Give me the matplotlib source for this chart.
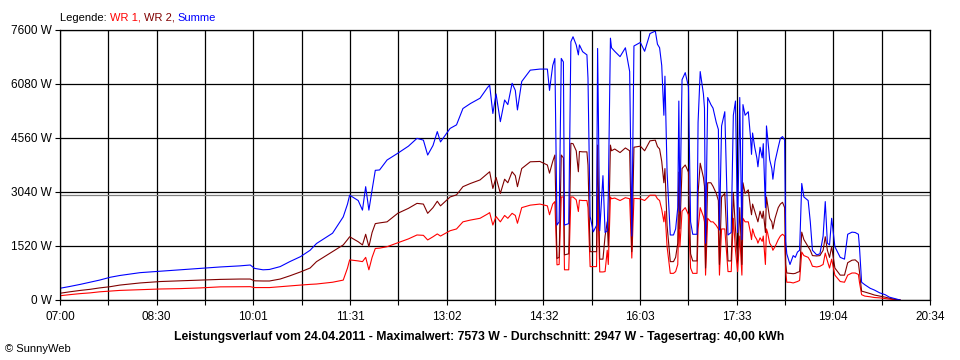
import matplotlib
matplotlib.use('Agg')
import matplotlib.pyplot as plt
import numpy as np

# Minuten ab 07:00, Leistung in W
minutes = [0, 9, 19, 28, 37, 47, 56, 75, 94, 112, 131, 150, 168, 178, 182, 190, 196, 206, 215, 225,
           234, 240, 255, 265, 269, 271, 279, 283, 286, 289, 292, 295, 299, 306, 316, 326, 334, 340, 344, 349,
           353, 356, 365, 371, 377, 384, 393, 400, 402, 405, 408, 412, 416, 419, 423, 426, 428, 432, 440, 449,
           456, 458, 461, 463, 465, 467, 469, 471, 472, 476, 478, 480, 483, 485, 486, 489, 493, 494, 496, 499,
           502, 503, 505, 508, 510, 512, 513, 515, 516, 519, 524, 529, 533, 535, 537, 543, 547, 552, 557, 559,
           561, 563, 565, 566, 568, 571, 574, 576, 578, 579, 580, 582, 585, 588, 590, 592, 596, 597, 599, 602,
           603, 604, 606, 609, 611, 614, 616, 617, 619, 622, 625, 628, 630, 632, 634, 636, 638, 639, 641, 644,
           646, 647, 648, 650, 652, 653, 655, 657, 658, 660, 661, 662, 664, 666, 667, 669, 672, 674, 676, 678,
           679, 680, 683, 686, 688, 690, 692, 694, 696, 700, 702, 704, 708, 711, 714, 716, 718, 720, 722, 725,
           730, 734, 737, 741, 744, 747, 748, 750, 753, 758, 762, 767, 772, 776, 781, 786]
wr1 = [120, 150, 180, 200, 230, 250, 270, 290, 310, 320, 340, 370, 375, 375, 350, 350, 350, 375, 400, 420,
       440, 450, 500, 560, 900, 1130, 1100, 1080, 1200, 850, 1200, 1450, 1460, 1500, 1610, 1720, 1830, 1820, 1690, 1780,
       1860, 1800, 1950, 2000, 2200, 2250, 2300, 2420, 2460, 2110, 2350, 2200, 2380, 2300, 2440, 2380, 2160, 2600, 2670, 2700,
       2650, 2400, 2700, 2770, 990, 1000, 2900, 2900, 850, 850, 2900, 2900, 2820, 2490, 2810, 2800, 2800, 2600, 940, 940,
       940, 2960, 790, 790, 800, 1400, 1000, 2900, 2850, 2870, 2800, 2880, 2850, 1180, 2860, 2850, 2800, 2950, 2950, 2850,
       2800, 2550, 2200, 2500, 1500, 750, 750, 800, 1000, 2400, 1500, 2500, 2600, 2400, 900, 750, 750, 2000, 2600, 2350,
       2200, 700, 2300, 2200, 2200, 2100, 2000, 700, 2000, 2000, 800, 800, 2300, 1400, 800, 1800, 700, 2300, 2200, 2200,
       1900, 1700, 2000, 1800, 1700, 1600, 1750, 1650, 1800, 1000, 2000, 1900, 1600, 1500, 1400, 1500, 1700, 1800, 1850, 1800,
       800, 500, 500, 480, 500, 520, 550, 1350, 1250, 1200, 1100, 950, 930, 950, 1000, 1320, 1100, 900, 1150, 700,
       520, 500, 700, 760, 760, 720, 500, 150, 110, 90, 70, 60, 40, 25, 10, 0]
wr2 = [190, 230, 270, 300, 340, 375, 420, 480, 520, 540, 560, 580, 590, 590, 540, 535, 535, 590, 680, 790,
       900, 1080, 1360, 1550, 1700, 1780, 1640, 1550, 1850, 1500, 1900, 2150, 2170, 2200, 2440, 2580, 2720, 2700, 2440, 2600,
       2780, 2650, 2900, 2960, 3190, 3280, 3380, 3560, 3610, 3140, 3450, 3000, 3400, 3300, 3610, 3500, 3190, 3700, 3890, 3900,
       3800, 3570, 3900, 4080, 1170, 1200, 4080, 4000, 1270, 1300, 4410, 4400, 4200, 3610, 4180, 4170, 4170, 3800, 1360, 1360,
       1360, 4360, 1150, 1150, 1800, 2200, 1500, 4360, 4200, 4250, 4150, 4280, 4200, 1360, 4300, 4330, 4200, 4480, 4500, 4320,
       4250, 3900, 3300, 3700, 2100, 1080, 1080, 1200, 1600, 3600, 2000, 3700, 3800, 3600, 1300, 1100, 1100, 3000, 3850, 3450,
       3200, 900, 3300, 3300, 3200, 3000, 2800, 1000, 2900, 3000, 1100, 1100, 3000, 2000, 1100, 2600, 1000, 3300, 3000, 3100,
       2600, 2400, 2700, 2500, 2300, 2200, 2500, 2300, 2500, 1900, 2900, 2700, 2300, 2200, 2000, 2300, 2600, 2700, 2750, 2600,
       1000, 760, 750, 740, 750, 780, 800, 1910, 1700, 1500, 1400, 1250, 1240, 1250, 1400, 1780, 1400, 1200, 1500, 900,
       700, 700, 1050, 1120, 1130, 1050, 800, 250, 225, 180, 140, 110, 80, 50, 20, 0]
summe = [330, 380, 440, 500, 560, 640, 690, 770, 810, 850, 890, 930, 960, 985, 890, 850, 860, 940, 1080, 1220,
         1400, 1590, 1880, 2340, 2700, 2950, 2800, 2530, 3190, 2530, 3100, 3650, 3660, 3940, 4130, 4330, 4550, 4500, 4080, 4350,
         4740, 4450, 4830, 4930, 5390, 5530, 5680, 5980, 6050, 5250, 5800, 5020, 5630, 5500, 6100, 5900, 5350, 6150, 6470, 6500,
         6500, 5900, 6600, 6800, 2110, 2200, 6800, 6700, 2110, 2150, 7270, 7410, 7180, 6900, 7180, 6990, 6900, 6240, 2350, 1920,
         2100, 7080, 1950, 3500, 1900, 1950, 2950, 7370, 7100, 7000, 6850, 7100, 6430, 1800, 7150, 7250, 7000, 7500, 7570, 7200,
         7100, 6600, 5200, 6300, 3600, 1830, 1830, 2000, 2600, 5600, 2500, 6200, 6400, 6000, 2200, 1850, 1850, 5000, 6430, 5800,
         5400, 1600, 5700, 5500, 5400, 5000, 4800, 1970, 4900, 5300, 1830, 1900, 5200, 5600, 1900, 5700, 1700, 5500, 5200, 5300,
         4600, 4100, 4700, 4300, 4000, 3750, 4300, 4000, 4400, 2600, 4900, 4600, 3950, 3700, 3400, 3900, 4300, 4550, 4600, 4500,
         1650, 1300, 1000, 1250, 1200, 1350, 1400, 3280, 2900, 2800, 2200, 1400, 1270, 1300, 1800, 2770, 1600, 1550, 2300, 1500,
         1200, 1150, 1850, 1910, 1900, 1850, 1500, 500, 430, 330, 280, 200, 150, 80, 40, 0]

average = 2947
y_ticks = [0, 1520, 3040, 4560, 6080, 7600]
x_labels = ['07:00', '08:30', '10:01', '11:31', '13:02', '14:32', '16:03', '17:33', '19:04', '20:34']
span = 814  # 07:00 bis 20:34

plt.rcParams['font.family'] = ['Liberation Sans', 'DejaVu Sans']

fig = plt.figure(figsize=(9.6, 3.6), dpi=100)
ax = fig.add_axes([60 / 960, 60 / 360, 870 / 960, 270 / 360])

grid_x = np.linspace(0, span, 19)
ax.set_xlim(0, span)
ax.set_ylim(0, 7600)
ax.set_xticks(grid_x)
ax.set_xticklabels([x_labels[i // 2] if i % 2 == 0 else '' for i in range(19)], fontsize=8.5)
ax.set_yticks(y_ticks)
ax.set_yticklabels([f'{v} W' for v in y_ticks], fontsize=8.5)
ax.tick_params(length=3.6, width=0.8, color='black', pad=2)
ax.tick_params(axis='x', pad=4)
ax.set_axisbelow(True)
ax.grid(True, color='black', lw=0.9)
for s in ax.spines.values():
    s.set_linewidth(0.9)

ax.axhline(average, color='#808080', lw=0.9, zorder=1.5)
ax.plot(minutes, wr1, color='#ff0000', lw=0.8)
ax.plot(minutes, wr2, color='#800000', lw=0.8)
ax.plot(minutes, summe, color='#0000ff', lw=0.8)

# Legende oben links
t1 = fig.text(60 / 960, 1 - 21 / 360, 'Legende: ', fontsize=8, color='black', va='baseline')
t2 = ax.annotate('WR 1, ', xy=(1, 0), xycoords=t1, va='bottom', fontsize=8, color='#ff0000')
t3 = ax.annotate('WR 2, ', xy=(1, 0), xycoords=t2, va='bottom', fontsize=8, color='#800000')
t4 = ax.annotate('Summe', xy=(1, 0), xycoords=t3, va='bottom', fontsize=8, color='#0000ff')

fig.text(0.499, 1 - 337 / 360,
         'Leistungsverlauf vom 24.04.2011 - Maximalwert: 7573 W - Durchschnitt: 2947 W - Tagesertrag: 40,00 kWh',
         ha='center', va='center', fontsize=8.8, fontweight='bold')
fig.text(5 / 960, 1 - 349 / 360, '© SunnyWeb', ha='left', va='center', fontsize=8)

fig.savefig('out.png', dpi=100)
